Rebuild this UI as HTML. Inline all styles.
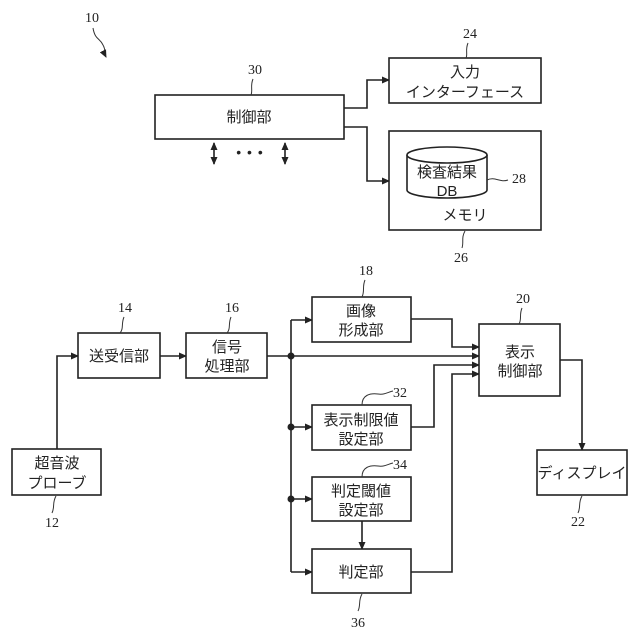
<!DOCTYPE html>
<html><head><meta charset="utf-8"><style>
body{margin:0;background:#fff}
svg{display:block}
.b{fill:#fff;stroke:#222;stroke-width:1.6}
.l{fill:none;stroke:#222;stroke-width:1.6}
.s{fill:none;stroke:#333;stroke-width:1}
text{font-family:"Liberation Sans","Noto Sans CJK JP",sans-serif;font-size:15px;fill:#222;text-anchor:middle}
.n{font-family:"Liberation Serif",serif;font-size:14px}
</style></head><body>
<svg width="640" height="640" viewBox="0 0 640 640" xmlns="http://www.w3.org/2000/svg">
<defs><marker id="a" markerWidth="8" markerHeight="8" refX="7" refY="4" orient="auto-start-reverse" markerUnits="userSpaceOnUse"><path d="M0,0.5 L8,4 L0,7.5z" fill="#222"/></marker></defs>

<text class="n" x="92" y="22">10</text>
<path class="s" d="M93,28 C95,40 100,38 103,45 C106,50 104,53 106,57" marker-end="url(#a)"/>
<rect class="b" x="155" y="95" width="189" height="44"/>
<text x="249" y="122">制御部</text>
<text class="n" x="255" y="74">30</text><path class="s" d="M253,79 C250,86 253,90 251,95"/>
<path class="l" d="M214,143 V164" marker-start="url(#a)" marker-end="url(#a)"/>
<path class="l" d="M285,143 V164" marker-start="url(#a)" marker-end="url(#a)"/>
<text x="250" y="157" style="font-size:14px;letter-spacing:1px">• • •</text>
<path class="l" d="M344,108 H367 V80 H389" marker-end="url(#a)"/>
<path class="l" d="M344,127 H367 V181 H389" marker-end="url(#a)"/>
<rect class="b" x="389" y="58" width="152" height="45"/>
<text x="465" y="77">入力</text><text x="465" y="97">インターフェース</text>
<text class="n" x="470" y="38">24</text><path class="s" d="M468,43 C465,50 468,54 466,58"/>
<rect class="b" x="389" y="131" width="152" height="99"/>
<path class="b" d="M407,155 V190 A40,8 0 0 0 487,190 V155"/>
<ellipse class="b" cx="447" cy="155" rx="40" ry="8"/>
<text x="447" y="177">検査結果</text><text x="447" y="196">DB</text>
<text x="465" y="220">メモリ</text>
<path class="s" d="M487,180 C495,176 500,183 508,180"/>
<text class="n" x="519" y="183">28</text>
<text class="n" x="461" y="262">26</text><path class="s" d="M465,231 C461,238 464,242 462,248"/>

<rect class="b" x="12" y="449" width="89" height="46"/>
<text x="57" y="468">超音波</text><text x="57" y="488">プローブ</text>
<text class="n" x="52" y="527">12</text><path class="s" d="M56,496 C52,503 55,507 52,513"/>
<path class="l" d="M57,449 V356 H78" marker-end="url(#a)"/>
<rect class="b" x="78" y="333" width="82" height="45"/>
<text x="119" y="361">送受信部</text>
<text class="n" x="125" y="312">14</text><path class="s" d="M124,317 C121,324 124,328 120,333"/>
<path class="l" d="M160,356 H186" marker-end="url(#a)"/>
<rect class="b" x="186" y="333" width="81" height="45"/>
<text x="227" y="352">信号</text><text x="227" y="371">処理部</text>
<text class="n" x="232" y="312">16</text><path class="s" d="M231,317 C228,324 231,328 227,333"/>
<path class="l" d="M267,356 H479" marker-end="url(#a)"/>
<path class="l" d="M291,320 V572"/>
<circle cx="291" cy="356" r="3.5" fill="#222"/><circle cx="291" cy="427" r="3.5" fill="#222"/><circle cx="291" cy="499" r="3.5" fill="#222"/>
<path class="l" d="M291,320 H312" marker-end="url(#a)"/>
<path class="l" d="M291,427 H312" marker-end="url(#a)"/>
<path class="l" d="M291,499 H312" marker-end="url(#a)"/>
<path class="l" d="M291,572 H312" marker-end="url(#a)"/>

<rect class="b" x="312" y="297" width="99" height="45"/>
<text x="361" y="316">画像</text><text x="361" y="335">形成部</text>
<text class="n" x="366" y="275">18</text><path class="s" d="M365,280 C362,287 365,291 362,297"/>
<path class="l" d="M411,319 H452 V347 H479" marker-end="url(#a)"/>

<rect class="b" x="312" y="405" width="99" height="45"/>
<text x="361" y="425">表示制限値</text><text x="361" y="444">設定部</text>
<text class="n" x="400" y="397">32</text><path class="s" d="M362,405 C362,395 370,393 378,394 C385,395 388,392 393,391"/>
<path class="l" d="M411,427 H434 V365 H479" marker-end="url(#a)"/>

<rect class="b" x="312" y="477" width="99" height="44"/>
<text x="361" y="496">判定閾値</text><text x="361" y="515">設定部</text>
<text class="n" x="400" y="469">34</text><path class="s" d="M362,477 C362,467 370,465 378,466 C385,467 388,464 393,463"/>
<path class="l" d="M362,521 V549" marker-end="url(#a)"/>

<rect class="b" x="312" y="549" width="99" height="44"/>
<text x="361" y="577">判定部</text>
<text class="n" x="358" y="627">36</text><path class="s" d="M362,594 C358,601 361,605 358,611"/>
<path class="l" d="M411,572 H452 V374 H479" marker-end="url(#a)"/>

<rect class="b" x="479" y="324" width="81" height="72"/>
<text x="520" y="357">表示</text><text x="520" y="376">制御部</text>
<text class="n" x="523" y="303">20</text><path class="s" d="M522,308 C519,315 522,319 519,324"/>
<path class="l" d="M560,360 H582 V450" marker-end="url(#a)"/>
<rect class="b" x="537" y="450" width="90" height="45"/>
<text x="582" y="478">ディスプレイ</text>
<text class="n" x="578" y="526">22</text><path class="s" d="M582,496 C578,503 581,507 578,513"/>
</svg>
</body></html>
